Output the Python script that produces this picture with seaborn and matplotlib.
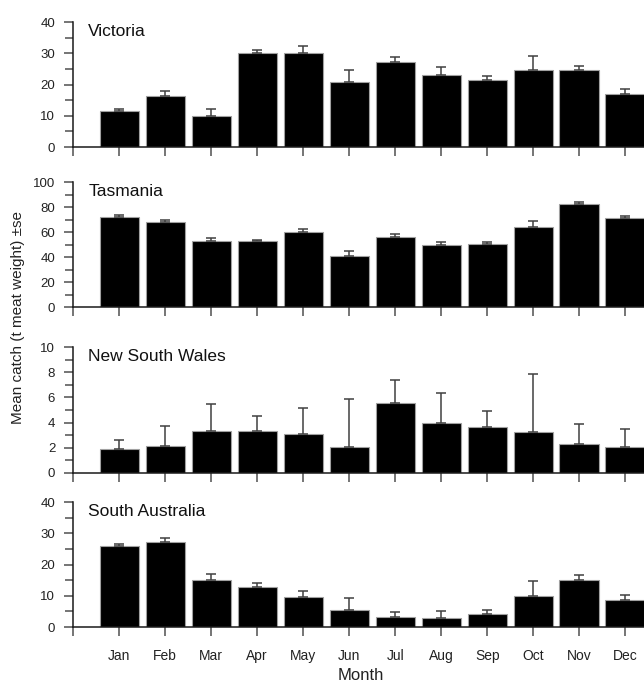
import numpy as np
import pandas as pd
import matplotlib
matplotlib.use("Agg")
import matplotlib.pyplot as plt
from matplotlib.ticker import MultipleLocator
import seaborn as sns

months = ["Jan", "Feb", "Mar", "Apr", "May", "Jun", "Jul", "Aug", "Sep", "Oct", "Nov", "Dec"]
states = ["Victoria", "Tasmania", "New South Wales", "South Australia"]

vic_mean = [11.6, 16.3, 10.0, 30.0, 30.2, 21.0, 27.2, 23.2, 21.6, 24.7, 24.6, 17.0]
vic_se = [0.7, 1.6, 2.1, 1.2, 2.1, 3.7, 1.8, 2.4, 1.2, 4.6, 1.5, 1.6]
tas_mean = [72.5, 67.9, 52.7, 52.7, 60.4, 40.6, 56.4, 49.7, 50.5, 64.4, 82.6, 71.1]
tas_se = [1.0, 1.6, 2.4, 1.3, 2.4, 4.1, 1.9, 2.4, 1.4, 4.6, 1.4, 1.6]
nsw_mean = [1.89, 2.13, 3.35, 3.30, 3.06, 2.05, 5.56, 3.94, 3.64, 3.22, 2.29, 2.02]
nsw_se = [0.69, 1.57, 2.10, 1.19, 2.07, 3.85, 1.86, 2.44, 1.28, 4.63, 1.57, 1.49]
sa_mean = [26.0, 27.2, 15.0, 12.9, 9.6, 5.5, 3.1, 2.9, 4.1, 10.1, 15.2, 8.7]
sa_se = [0.6, 1.5, 1.9, 1.1, 2.1, 3.8, 1.7, 2.3, 1.2, 4.7, 1.6, 1.5]

y_max = [40, 100, 10, 40]
y_major = [10, 20, 2, 10]

frames = []
for st, m, s in zip(states, [vic_mean, tas_mean, nsw_mean, sa_mean], [vic_se, tas_se, nsw_se, sa_se]):
    frames.append(pd.DataFrame({"state": st, "month": months, "mean": m, "se": s}))
df = pd.concat(frames, ignore_index=True)

sns.set_style("ticks")
plt.rcParams["font.family"] = ["Liberation Sans", "DejaVu Sans"]

W, H = 644, 684
fig = plt.figure(figsize=(W / 100, H / 100), dpi=100)

ax_left = 73.3
panels_px = [(22.3, 147.0), (182.3, 307.0), (347.3, 472.7), (502.3, 627.0)]

for i, (st, (top, bot)) in enumerate(zip(states, panels_px)):
    ax = fig.add_axes([ax_left / W, 1 - bot / H, (W - ax_left) / W, (bot - top) / H])
    sub = df[df["state"] == st]
    sns.barplot(data=sub, x="month", y="mean", order=months, color="black",
                edgecolor="#a0a0a0", linewidth=0.8, width=0.855, errorbar=None,
                saturation=1, ax=ax)
    pos = np.arange(len(months))
    se = sub["se"].to_numpy()
    ax.errorbar(pos, sub["mean"].to_numpy(), yerr=[np.zeros_like(se), se],
                fmt="none", ecolor="#404040", elinewidth=1.1, capsize=3.6,
                capthick=1.1, zorder=3)
    ax.set_xlim(-1, 11.41)
    ax.set_ylim(0, y_max[i])
    ax.set_xticks(np.arange(-1, 12))
    if i == 3:
        ax.set_xticklabels([""] + months, fontsize=10)
    else:
        ax.set_xticklabels([])
    ax.yaxis.set_major_locator(MultipleLocator(y_major[i]))
    ax.yaxis.set_minor_locator(MultipleLocator(y_major[i] / 2))
    ax.tick_params(axis="x", direction="out", length=6.5, width=1.1, color="#505050",
                   pad=9.5, labelcolor="#222222")
    ax.tick_params(axis="y", which="major", direction="out", length=6.5, width=1.1,
                   color="#505050", pad=6.5, labelsize=9.5, labelcolor="#222222")
    ax.tick_params(axis="y", which="minor", direction="out", length=5.5, width=1.1,
                   color="#505050")
    for sp in ["top", "right"]:
        ax.spines[sp].set_visible(False)
    for sp in ["left", "bottom"]:
        ax.spines[sp].set_color("#1a1a1a")
        ax.spines[sp].set_linewidth(1.1)
    ax.set_xlabel("")
    ax.set_ylabel("")
    ax.text(0.026, 0.89, st, transform=ax.transAxes, fontsize=12.5,
            va="baseline", ha="left", color="#111111")

fig.text(18 / W, 1 - 318 / H, "Mean catch (t meat weight) \u00b1se", rotation=90,
         ha="center", va="center", fontsize=11, color="#222222")
fig.text(361 / W, 1 - 676 / H, "Month", ha="center", va="center", fontsize=12,
         color="#222222")

fig.savefig("out.png", dpi=100)
